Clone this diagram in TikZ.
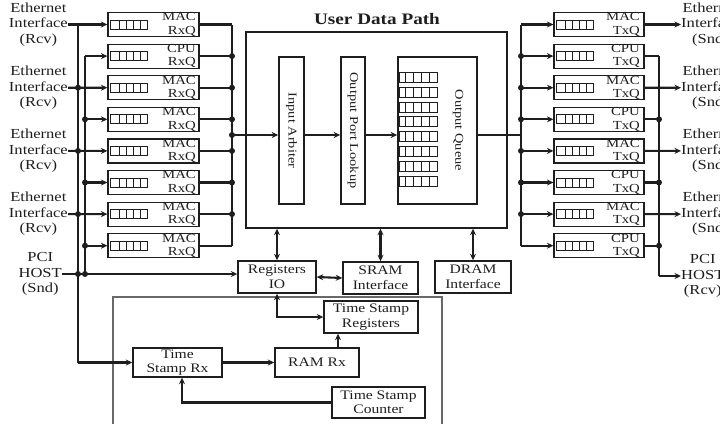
\documentclass[tikz,border=0pt]{standalone}
\usepackage{fontspec}
\setmainfont{Liberation Serif}[FakeStretch=1.2]
\usetikzlibrary{arrows.meta}
\definecolor{ink}{RGB}{30,30,30}
\definecolor{boxgray}{RGB}{105,105,105}
\newcommand\labfont{\fontsize{13.8}{15.5}\selectfont}
\newcommand\qfont{\fontsize{12.3}{13.5}\selectfont}
\newcommand\modfont{\fontsize{13}{14.5}\selectfont}
\newcommand\rotfont{\fontsize{12}{13}\selectfont}
\begin{document}
\begin{tikzpicture}[x=1pt,y=-1pt,
  conn/.style={line width=2.1pt, draw=ink},
  arr/.style={conn, -{Stealth[length=6.5pt,width=6pt]}},
  darr/.style={conn, {Stealth[length=6.5pt,width=6pt]}-{Stealth[length=6.5pt,width=6pt]}},
  qbox/.style={draw=ink, line width=1.2pt, minimum height=24pt, inner sep=0},
  modbox/.style={draw=ink, line width=1.4pt, inner sep=0, align=center, font=\modfont, text=ink},
  tall/.style={draw=ink, line width=1.6pt, inner sep=0, minimum height=147pt},
  dot/.style={circle, fill=ink, inner sep=0, minimum size=6pt},
  lab/.style={align=center, inner sep=0, font=\labfont, text=ink},
  qtext/.style={align=right, inner sep=0, font=\qfont, text=ink, anchor=east},
  icon/.style={draw=ink, line width=1pt}
]
\useasboundingbox (0,0) rectangle (720,423);
\clip (0,0) rectangle (720,423);

% bus coordinates
\coordinate (busA) at (78,0);
\coordinate (busB) at (85,0);
\coordinate (busL) at (232,0);
\coordinate (busR) at (521,0);
\coordinate (busC) at (659,0);
\coordinate (mid) at (0,135);

% left queues
\foreach \i/\t in {0/MAC,1/CPU,2/MAC,3/MAC,4/MAC,5/MAC,6/MAC,7/MAC} {
  \pgfmathsetmacro\cy{24.5+31.6*\i}
  \node[qbox, minimum width=91pt] (L\i) at (153.5,\cy) {};
  \draw[icon] (110,\cy-4.5) rectangle (147,\cy+4.5);
  \foreach \xx in {119,126,133,140} \draw[icon] (\xx,\cy-4.5) -- (\xx,\cy+4.5);
  \node[qtext] at (196,\cy) {\t\\RxQ};
}
% right queues
\foreach \i/\t in {0/MAC,1/CPU,2/MAC,3/CPU,4/MAC,5/CPU,6/MAC,7/CPU} {
  \pgfmathsetmacro\cy{24.5+31.6*\i}
  \node[qbox, minimum width=90pt] (R\i) at (599,\cy) {};
  \draw[icon] (556,\cy-4.5) rectangle (593,\cy+4.5);
  \foreach \xx in {565,572,579,586} \draw[icon] (\xx,\cy-4.5) -- (\xx,\cy+4.5);
  \node[qtext] at (640,\cy) {\t\\TxQ};
}

% left labels
\node[lab, anchor=east] (E0) at (68,24.5) {Ethernet\\Interface\\(Rcv)};
\node[lab, anchor=east] (E2) at (68,87.7) {Ethernet\\Interface\\(Rcv)};
\node[lab, anchor=east] (E4) at (68,150.9) {Ethernet\\Interface\\(Rcv)};
\node[lab, anchor=east] (E6) at (68,214.1) {Ethernet\\Interface\\(Rcv)};
\node[lab, anchor=east] (PS) at (62,274) {PCI\\HOST\\(Snd)};
% right labels
\node[lab, anchor=west] (S0) at (681,24.5) {Ethernet\\Interface\\(Snd)};
\node[lab, anchor=west] (S2) at (681,87.7) {Ethernet\\Interface\\(Snd)};
\node[lab, anchor=west] (S4) at (681,150.9) {Ethernet\\Interface\\(Snd)};
\node[lab, anchor=west] (S6) at (681,214.1) {Ethernet\\Interface\\(Snd)};
\node[lab, anchor=west] (PR) at (681,276) {PCI\\HOST\\(Rcv)};

% user data path
\node[draw=ink, line width=1.4pt, minimum width=261pt, minimum height=196pt, inner sep=0] (UDP) at (376.5,130) {};
\node[font=\fontsize{16}{18}\selectfont\bfseries, text=ink] (title) at (377,19) {User Data Path};
\node[tall, minimum width=25pt] (IA) at (291.5,130.5) {};
\node[tall, minimum width=24pt] (OPL) at (353,130.5) {};
\node[tall, minimum width=79pt] (OQ) at (437.5,130.5) {};
\node[rotate=-90, font=\rotfont, text=ink] at (IA) {Input Arbiter};
\node[rotate=-90, font=\rotfont, text=ink] at (OPL) {Output Port Lookup};
\node[rotate=-90, font=\rotfont, text=ink] at (458,130.5) {Output Queue};
\foreach \k in {0,...,7} {
  \pgfmathsetmacro\cy{77.5+14.8*\k}
  \draw[icon] (399,\cy-5) rectangle (437,\cy+5);
  \foreach \xx in {405,413,421,429} \draw[icon] (\xx,\cy-5) -- (\xx,\cy+5);
}

% lower modules
\node[modbox, minimum width=78pt, minimum height=32pt] (Reg) at (277,277) {Registers\\IO};
\node[modbox, minimum width=75pt, minimum height=32pt] (SRAM) at (380.5,278) {SRAM\\Interface};
\node[modbox, minimum width=76pt, minimum height=32pt] (DRAM) at (473,277) {DRAM\\Interface};
\draw[boxgray, line width=2pt] (113,297) rectangle (442,440);
\node[modbox, minimum width=94pt, minimum height=32pt] (TSReg) at (371,317) {Time Stamp\\Registers};
\node[modbox, minimum width=89pt, minimum height=29pt] (TSRx) at (177.5,362.5) {Time\\Stamp Rx};
\node[modbox, minimum width=84pt, minimum height=29pt] (RAM) at (317,362.5) {RAM Rx};
\node[modbox, minimum width=93pt, minimum height=31pt] (Cnt) at (378.5,402.5) {Time Stamp\\Counter};

% left input connectors
\foreach \i in {0,2,4,6} \draw[arr] (E\i.east) -- (L\i.west);
\draw[conn] (busA |- L0) -- (busA |- TSRx);
\draw[arr] (busA |- TSRx) -- (TSRx);
\foreach \i in {2,4,6} \node[dot] at (busA |- L\i) {};
\node[dot] at (busA |- PS.east) {};
\draw[arr] (PS.east) -- (PS.east -| Reg.west);
\draw[conn] (busB |- PS.east) -- (busB |- L1);
\node[dot] at (busB |- PS.east) {};
\foreach \i in {1,3,5,7} \draw[arr] (busB |- L\i) -- (L\i.west);
\foreach \i in {3,5,7} \node[dot] at (busB |- L\i) {};

% left output bus
\foreach \i in {0,...,7} \draw[conn] (L\i.east) -- (busL |- L\i);
\draw[conn] (busL |- L0) -- (busL |- L7);
\foreach \i in {1,...,6} \node[dot] at (busL |- L\i) {};
\node[dot] at (busL |- mid) {};
\draw[arr] (busL |- mid) -- (IA.west |- mid);
\draw[arr] (IA.east |- mid) -- (OPL.west |- mid);
\draw[arr] (OPL.east |- mid) -- (OQ.west |- mid);
\draw[conn] (OQ.east |- mid) -- (busR |- mid);

% right bus
\draw[conn] (busR |- R0) -- (busR |- R7);
\foreach \i in {0,...,7} \draw[arr] (busR |- R\i) -- (R\i.west);
\foreach \i in {1,...,6} \node[dot] at (busR |- R\i) {};
\foreach \i in {0,2,4,6} \draw[arr] (R\i.east) -- (S\i.west);
\foreach \i in {1,3,5,7} \draw[conn] (R\i.east) -- (busC |- R\i);
\draw[conn] (busC |- R1) -- (busC |- PR.west);
\draw[arr] (busC |- PR.west) -- (PR.west);
\foreach \i in {3,5,7} \node[dot] at (busC |- R\i) {};

% memory / registers
\draw[darr] (Reg.north |- UDP.south) -- (Reg.north);
\draw[darr] (SRAM.north |- UDP.south) -- (SRAM.north);
\draw[darr] (DRAM.north |- UDP.south) -- (DRAM.north);
\draw[darr] (Reg.east) -- (SRAM.west);
\draw[darr] (Reg.south) -- (Reg.south |- TSReg.west) -- (TSReg.west);

% time stamp
\coordinate (ra) at (338,0);
\coordinate (tc) at (182,0);
\draw[arr] (TSRx) -- (RAM);
\draw[arr] (ra |- RAM.north) -- (ra |- TSReg.south);
\draw[arr] (Cnt.west) -- (tc |- Cnt.west) -- (tc |- TSRx.south);
\end{tikzpicture}
\end{document}
